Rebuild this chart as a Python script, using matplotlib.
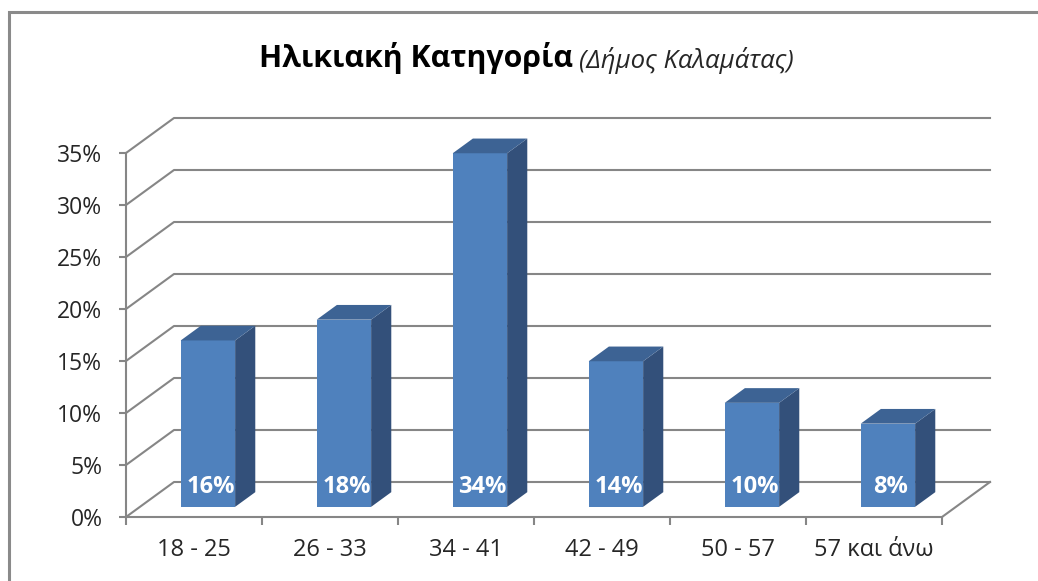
import matplotlib
matplotlib.use('Agg')
import matplotlib.pyplot as plt
from matplotlib.patches import Polygon, Rectangle
import numpy as np

plt.rcParams['font.family'] = ['Open Sans', 'DejaVu Sans']

# data
categories = ['18 - 25', '26 - 33', '34 - 41', '42 - 49', '50 - 57', '57 και άνω']
values = [16, 18, 34, 14, 10, 8]
yticks = [0, 5, 10, 15, 20, 25, 30, 35]
title_main = 'Ηλικιακή Κατηγορία'
title_sub = '(Δήμος Καλαμάτας)'

W, H = 1038, 581
GRID = '#868686'
FRONT = '#4F81BD'
SIDE = '#33507A'
TOP = '#3D6394'

fig = plt.figure(figsize=(W / 100, H / 100), dpi=100)
fig.patch.set_facecolor('white')

# outer chart frame (runs off the right / bottom of the picture)
fig.patches.append(Rectangle((9 / W, -0.05), 1.1, 1 - 12 / H + 0.05,
                             transform=fig.transFigure, fill=False,
                             edgecolor='#8a8a8a', lw=2.2))

ax = fig.add_axes([126 / W, (H - 517) / H, (942 - 126) / W, (517 - 153) / H])
ax.set_xlim(-0.5, len(categories) - 0.5)
ax.set_ylim(0, 35)
ax.patch.set_alpha(0)

# depth of the 3d box in data units
DX = 48 / (816 / 6)
DY = 35 / (364 / 35)
f0, f1 = 0.29, 0.71
bw = 0.40

# walls: gridlines on side + back wall, floor
for y in yticks:
    ax.plot([-0.5, -0.5 + DX, 5.5 + DX], [y, y + DY, y + DY],
            color=GRID, lw=1.5, clip_on=False, zorder=1)
ax.plot([5.5, 5.5 + DX], [0, DY], color=GRID, lw=1.5, clip_on=False, zorder=1)

# bars
for i, v in enumerate(values):
    x0 = i - bw / 2 + f0 * DX
    y0 = f0 * DY
    d = f1 - f0
    ax.add_patch(Rectangle((x0, y0), bw, v, facecolor=FRONT, edgecolor='none',
                           zorder=3, clip_on=False))
    ax.add_patch(Polygon([(x0 + bw, y0), (x0 + bw + d * DX, y0 + d * DY),
                          (x0 + bw + d * DX, y0 + v + d * DY), (x0 + bw, y0 + v)],
                         facecolor=SIDE, edgecolor='none', zorder=3, clip_on=False))
    ax.add_patch(Polygon([(x0, y0 + v), (x0 + bw, y0 + v),
                          (x0 + bw + d * DX, y0 + v + d * DY), (x0 + d * DX, y0 + v + d * DY)],
                         facecolor=TOP, edgecolor='none', zorder=3, clip_on=False))
    ax.text(x0 + bw / 2 + 0.02, 2.9, f'{v}%', color='white', fontsize=17,
            fontweight='bold', ha='center', va='center', zorder=4)

# axes
for s in ['top', 'right']:
    ax.spines[s].set_visible(False)
for s in ['left', 'bottom']:
    ax.spines[s].set_color(GRID)
    ax.spines[s].set_linewidth(1.5)
ax.set_yticks(yticks)
ax.set_yticklabels([f'{t}%' for t in yticks], fontsize=16.5, color='#262626')
ax.tick_params(axis='y', length=5, width=1.5, color=GRID, pad=12)
ax.set_xticks(np.arange(-0.5, len(categories)))
ax.set_xticklabels([])
ax.set_xticks(np.arange(len(categories)), minor=True)
ax.set_xticklabels(categories, minor=True, fontsize=17, color='#262626')
ax.tick_params(axis='x', which='major', length=6, width=1.5, color=GRID)
ax.tick_params(axis='x', which='minor', length=0, pad=15)

# title, bold part followed by italic subtitle
t1 = fig.text(259 / W, 1 - 67 / H, title_main, fontsize=21.8, fontweight='bold',
              ha='left', va='baseline', color='black')
ax.annotate(title_sub, xy=(1, 0), xycoords=t1, xytext=(4, 0),
            textcoords='offset points', fontsize=18.5, fontstyle='italic',
            ha='left', va='bottom', color='#262626', annotation_clip=False)

fig.savefig('out.png', dpi=100)
